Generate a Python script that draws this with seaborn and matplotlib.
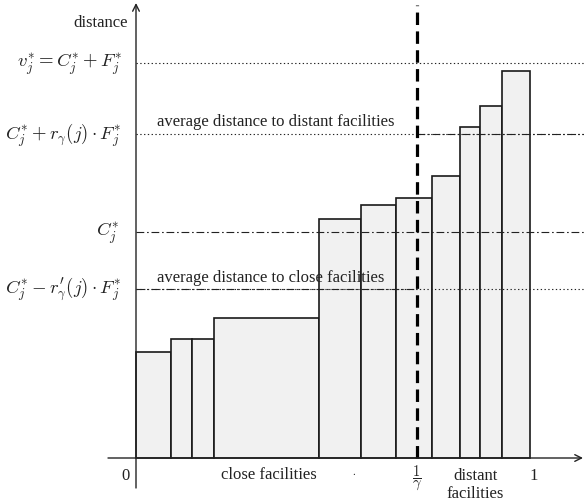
import matplotlib
matplotlib.use("Agg")
import matplotlib.pyplot as plt
import seaborn as sns
import numpy as np

# ---- data (x: fraction of facilities, y: distance, v*_j = 1) ----
bar_edges = [0.0, 0.089, 0.142, 0.198, 0.4645, 0.571, 0.66, 0.751, 0.822, 0.873, 0.929, 1.0]
bar_heights = [0.268, 0.301, 0.301, 0.354, 0.605, 0.641, 0.658, 0.714, 0.838, 0.891, 0.980]
level_v = 1.0          # v*_j = C*_j + F*_j
level_far = 0.820      # C*_j + r_gamma(j) F*_j
level_c = 0.572        # C*_j
level_close = 0.428    # C*_j - r'_gamma(j) F*_j
gamma_inv = 0.713      # 1/gamma

level_labels = [r"$v_j^{*} = C_j^{*} + F_j^{*}$",
                r"$C_j^{*} + r_\gamma(j)\cdot F_j^{*}$",
                r"$C_j^{*}$",
                r"$C_j^{*} - r_{\gamma}^{\prime}(j)\cdot F_j^{*}$"]

sns.set_theme(style="white")
plt.rcParams["font.family"] = ["Liberation Serif", "DejaVu Serif"]
plt.rcParams["mathtext.fontset"] = "cm"

W, H = 584, 502
fig = plt.figure(figsize=(W / 100, H / 100), dpi=100)
ax = fig.add_axes([0, 0, 1, 1])
X0, XS = 136, 394
Y0, YS = 459, 395
def px(x):
    return (x - X0) / XS
def py(y):
    return (Y0 - y) / YS
ax.set_xlim(px(0), px(W))
ax.set_ylim(py(H), py(0))
ax.axis("off")

left = np.array(bar_edges[:-1])
widths = np.diff(bar_edges)
ax.bar(left, bar_heights, width=widths, align="edge", facecolor="#f1f1f1",
       edgecolor="#1a1a1a", linewidth=1.2, zorder=2)

lc = "#222222"
xmax = px(W)
dot = (0, (1.2, 2.2))
dashdot = (0, (7, 2.5, 1.5, 2.5))
ax.hlines(level_v, 0, xmax, colors=lc, linestyles=[dot], linewidth=0.8, zorder=3)
ax.hlines(level_far, 0, xmax, colors=lc, linestyles=[dot], linewidth=0.8, zorder=3)
ax.hlines(level_far, gamma_inv, xmax, colors=lc, linestyles=[dashdot], linewidth=0.8, zorder=3)
ax.hlines(level_c, 0, xmax, colors=lc, linestyles=[dashdot], linewidth=0.8, zorder=3)
ax.hlines(level_close, 0, xmax, colors=lc, linestyles=[dot], linewidth=0.8, zorder=3)
ax.hlines(level_close, 0, gamma_inv, colors=lc, linestyles=[dashdot], linewidth=0.8, zorder=3)

ax.vlines(gamma_inv, 0, py(6), colors="black", linestyles=[(0, (3.9, 2.0))],
          linewidth=2.3, zorder=5)

# axes with arrows
ap = dict(arrowstyle="->", lw=1.0, color="#222222", shrinkA=0, shrinkB=0,
          mutation_scale=12)
ax.annotate("", xy=(0, py(4)), xytext=(0, py(489)), arrowprops=ap, zorder=6)
ax.annotate("", xy=(px(583), 0), xytext=(px(108), 0), arrowprops=ap, zorder=6)

tc = "#222222"
fs = 12
ax.text(px(128), py(23), "distance", ha="right", va="center", fontsize=12, color=tc)
for lvl, lab, xr in zip([level_v, level_far, level_c, level_close], level_labels,
                        [122, 122, 119, 122]):
    ax.text(px(xr), lvl, lab, ha="right", va="center", fontsize=13.5, color=tc)

ax.text(px(157), py(122), "average distance to distant facilities", ha="left",
        va="center", fontsize=fs, color=tc)
ax.text(px(157), py(278), "average distance to close facilities", ha="left",
        va="center", fontsize=fs, color=tc)

ax.text(px(125), py(476), "0", ha="center", va="center", fontsize=fs, color=tc)
ax.text(px(269), py(475), "close facilities", ha="center", va="center", fontsize=fs, color=tc)
ax.text(px(354), py(473), ".", ha="center", va="center", fontsize=8, color=tc)
ax.text(gamma_inv, py(478), r"$\dfrac{1}{\gamma}$", ha="center", va="center",
        fontsize=10.5, color=tc)
ax.text(px(476), py(476), "distant", ha="center", va="center", fontsize=fs, color=tc)
ax.text(px(475), py(494), "facilities", ha="center", va="center", fontsize=fs, color=tc)
ax.text(px(534), py(476), "1", ha="center", va="center", fontsize=fs, color=tc)

fig.savefig("out.png", dpi=100, facecolor="white")
